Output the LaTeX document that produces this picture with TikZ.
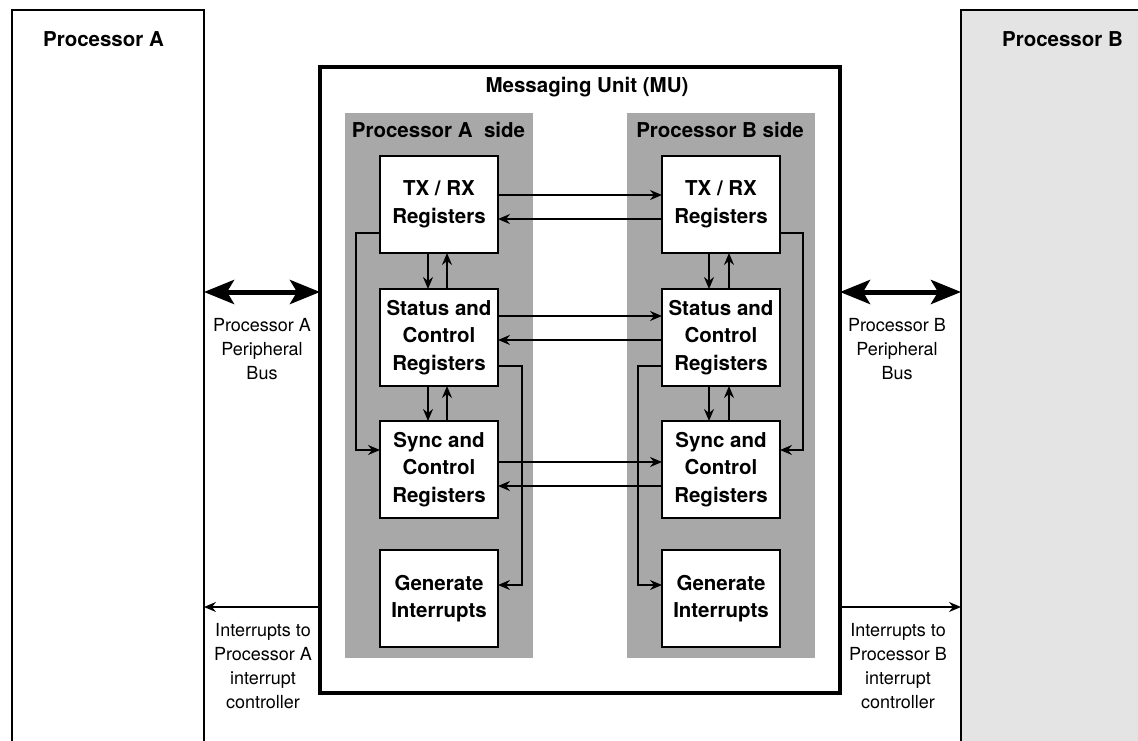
\documentclass[tikz,border=0pt]{standalone}
\usepackage{fontspec}
\setmainfont{TeX Gyre Heros}
\usetikzlibrary{arrows.meta}
\definecolor{panelgray}{HTML}{A8A8A8}
\definecolor{procbfill}{HTML}{E4E4E4}
\begin{document}
\begin{tikzpicture}[x=1pt,y=-1pt,
  procbox/.style={draw, line width=1.5pt, inner sep=0pt, outer sep=0pt, anchor=north west},
  mubox/.style={draw, line width=3.5pt, fill=white, inner sep=0pt, outer sep=0pt, anchor=north west},
  panel/.style={fill=panelgray, draw=none, inner sep=0pt, outer sep=0pt, anchor=north west, minimum width=188pt, minimum height=545pt},
  reg/.style={draw, line width=1.8pt, fill=white, minimum width=118pt, minimum height=97pt, inner sep=0pt, outer sep=0pt, align=center, font=\bfseries\fontsize{20.5}{27.5}\selectfont, anchor=north west},
  arr/.style={-{Stealth[length=12pt,width=10pt,inset=4pt]}, line width=1.5pt},
  bus/.style={{Stealth[length=30pt,width=24pt,inset=7pt]}-{Stealth[length=30pt,width=24pt,inset=7pt]}, line width=5pt},
  lbl/.style={align=center, font=\fontsize{18}{24}\selectfont},
  ttl/.style={font=\bfseries\fontsize{20.5}{24}\selectfont}
]
\useasboundingbox (0,0) rectangle (1138,741);
\clip (0,0) rectangle (1138,741);
\fill[white] (0,0) rectangle (1138,741);

% processors
\node[procbox, fill=white, minimum width=192pt, minimum height=760pt] (procA) at (12,10) {};
\node[procbox, fill=procbfill, minimum width=200pt, minimum height=760pt] (procB) at (961,10) {};
\node[ttl] (procAt) at (103.5,39) {Processor A};
\node[ttl] (procBt) at (1062.5,39) {Processor B};

% messaging unit
\node[mubox, minimum width=520pt, minimum height=626pt] (mu) at (320,67) {};
\node[ttl] (mut) at (587,87) {Messaging Unit (MU)};

% panels
\node[panel] (panA) at (345,113) {};
\node[panel] (panB) at (627,113) {};
\node[ttl] (panAt) at (438.5,130) {Processor A~~side};
\node[ttl] (panBt) at (720,130) {Processor B side};

% registers A
\node[reg] (txA) at (380,156) {TX / RX\\Registers};
\node[reg] (stA) at (380,289) {Status and\\Control\\Registers};
\node[reg] (syA) at (380,421) {Sync and\\Control\\Registers};
\node[reg] (gnA) at (380,550) {Generate\\Interrupts};
% registers B
\node[reg] (txB) at (662,156) {TX / RX\\Registers};
\node[reg] (stB) at (662,289) {Status and\\Control\\Registers};
\node[reg] (syB) at (662,421) {Sync and\\Control\\Registers};
\node[reg] (gnB) at (662,550) {Generate\\Interrupts};

% horizontal cross arrows
\draw[arr] (txA.east |- 0,195) -- (txB.west |- 0,195);
\draw[arr] (txB.west |- 0,219) -- (txA.east |- 0,219);
\draw[arr] (stA.east |- 0,316) -- (stB.west |- 0,316);
\draw[arr] (stB.west |- 0,340) -- (stA.east |- 0,340);
\draw[arr] (syA.east |- 0,462) -- (syB.west |- 0,462);
\draw[arr] (syB.west |- 0,486) -- (syA.east |- 0,486);

% vertical arrows
\draw[arr] (txA.south -| 428,0) -- (stA.north -| 428,0);
\draw[arr] (stA.north -| 447,0) -- (txA.south -| 447,0);
\draw[arr] (stA.south -| 428,0) -- (syA.north -| 428,0);
\draw[arr] (syA.north -| 447,0) -- (stA.south -| 447,0);
\draw[arr] (txB.south -| 709,0) -- (stB.north -| 709,0);
\draw[arr] (stB.north -| 729,0) -- (txB.south -| 729,0);
\draw[arr] (stB.south -| 709,0) -- (syB.north -| 709,0);
\draw[arr] (syB.north -| 729,0) -- (stB.south -| 729,0);

% loops
\draw[arr] (txA.west |- 0,233) -- (356,233) -- (356,450) -- (syA.west |- 0,450);
\draw[arr] (stA.east |- 0,366) -- (522,366) -- (522,585) -- (gnA.east |- 0,585);
\draw[arr] (txB.east |- 0,233) -- (803,233) -- (803,450) -- (syB.east |- 0,450);
\draw[arr] (stB.west |- 0,366) -- (638,366) -- (638,585) -- (gnB.west |- 0,585);

% buses
\draw[bus] (procA.east |- 0,292) -- (mu.west |- 0,292);
\draw[bus] (mu.east |- 0,292) -- (procB.west |- 0,292);
\node[lbl] (busA) at (262,349) {Processor A\\Peripheral\\Bus};
\node[lbl] (busB) at (897,349) {Processor B\\Peripheral\\Bus};

% interrupts
\draw[arr] (mu.west |- 0,607) -- (procA.east |- 0,607);
\draw[arr] (mu.east |- 0,607) -- (procB.west |- 0,607);
\node[lbl] (intA) at (263,666) {Interrupts to\\Processor A\\interrupt\\controller};
\node[lbl] (intB) at (898,666) {Interrupts to\\Processor B\\interrupt\\controller};
\end{tikzpicture}
\end{document}
